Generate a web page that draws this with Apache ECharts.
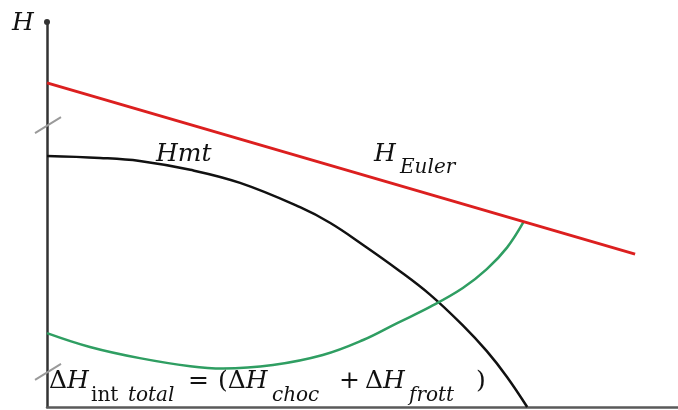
<!DOCTYPE html>
<html>
<head>
<meta charset="utf-8">
<script src="https://cdn.jsdelivr.net/npm/echarts@6/dist/echarts.min.js"></script>
<style>
  html, body { margin: 0; padding: 0; background: #fff; }
  #chart { width: 678px; height: 410px; }
</style>
</head>
<body>
<div id="chart"></div>
<script>
// Flow rate Q (arbitrary units) and head H (arbitrary units)
const eulerQ = [0, 9.32];
const eulerH = [8.42, 3.97];

const hmtQ = [0, 0.84, 1.47, 2.27, 3.06, 4.01, 4.49, 5.01, 5.55, 6.07, 6.59, 6.97, 7.29, 7.61];
const hmtH = [6.52, 6.47, 6.39, 6.16, 5.82, 5.19, 4.78, 4.21, 3.58, 2.92, 2.12, 1.45, 0.78, 0];

const lossQ = [0, 0.68, 1.47, 2.27, 2.79, 3.58, 4.37, 5.01, 5.55, 6.07, 6.59, 6.97, 7.29, 7.55];
const lossH = [1.92, 1.56, 1.27, 1.06, 1.00, 1.09, 1.35, 1.74, 2.18, 2.60, 3.09, 3.58, 4.14, 4.80];

// Head values where the axis break marks sit
const breakH = [7.32, 0.91];

const pair = (xs, ys) => xs.map((x, i) => [x, ys[i]]);

const chart = echarts.init(document.getElementById('chart'));
const serif = '"DejaVu Serif", "Liberation Serif", serif';

chart.setOption({
  backgroundColor: '#ffffff',
  animation: false,
  grid: { left: 47, right: 0, top: 22, bottom: 3, containLabel: false },
  xAxis: {
    type: 'value', min: 0, max: 10,
    axisLine: { show: true, lineStyle: { color: '#5a5a5a', width: 2.5 } },
    axisTick: { show: false }, axisLabel: { show: false }, splitLine: { show: false }
  },
  yAxis: {
    type: 'value', min: 0, max: 10,
    axisLine: {
      show: true, symbol: ['none', 'circle'], symbolSize: [6, 6],
      lineStyle: { color: '#333', width: 2.5 }
    },
    axisTick: { show: false }, axisLabel: { show: false }, splitLine: { show: false }
  },
  series: [
    {
      name: 'H Euler', type: 'line', data: pair(eulerQ, eulerH),
      showSymbol: false, lineStyle: { color: '#dc1f1f', width: 3 }, z: 3
    },
    {
      name: 'Hmt', type: 'line', data: pair(hmtQ, hmtH), smooth: 0.4,
      showSymbol: false, lineStyle: { color: '#111', width: 2.5 }, z: 2
    },
    {
      name: 'ΔH int total', type: 'line', data: pair(lossQ, lossH), smooth: 0.4,
      showSymbol: false, lineStyle: { color: '#2f9e62', width: 2.5 }, z: 2
    }
  ]
});

// Text and axis-break decorations
const rich = {};
[['U', 'normal', 25], ['I', 'italic', 25], ['u', 'normal', 20], ['i', 'italic', 20]].forEach(function (d) {
  rich[d[0]] = { fontFamily: serif, fontStyle: d[1], fontSize: d[2], fill: '#111' };
});
function txt(x, y, parts) {
  return {
    type: 'text', x: x, y: y, z: 10,
    style: {
      text: parts, fill: '#111', font: 'italic 25px ' + serif,
      verticalAlign: 'middle', align: 'left', rich: rich
    }
  };
}

const mainY = 381, subY = 396;
const graphics = [
  txt(12, 23, '{I|H}'),
  txt(156, 154, '{I|Hmt}'),
  txt(374, 154, '{I|H}'),
  txt(400, 168, '{i|Euler}'),
  txt(49, mainY, '{U|Δ}{I|H}'),
  txt(91, subY, '{u|int}'),
  txt(128, subY, '{i|total}'),
  txt(188, mainY, '{U|=}'),
  txt(218, mainY, '{U|(Δ}{I|H}'),
  txt(272, subY, '{i|choc}'),
  txt(339, mainY, '{U|+}'),
  txt(365, mainY, '{U|Δ}{I|H}'),
  txt(409, subY, '{i|frott}'),
  txt(476, mainY, '{U|)}')
];

breakH.forEach(function (h) {
  const p = chart.convertToPixel({ gridIndex: 0 }, [0, h]);
  graphics.push({
    type: 'line', z: 9,
    shape: { x1: p[0] - 12, y1: p[1] + 8, x2: p[0] + 14, y2: p[1] - 8 },
    style: { stroke: '#9a9a9a', lineWidth: 2 }
  });
});

chart.setOption({ graphic: graphics });
</script>
</body>
</html>
